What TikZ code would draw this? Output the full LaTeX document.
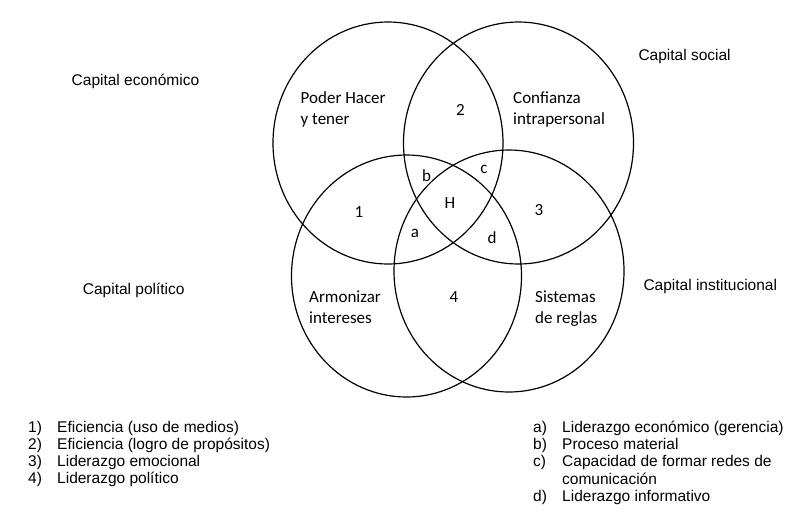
\documentclass[tikz,border=0pt]{standalone}
\usepackage{fontspec}
\setmainfont{Liberation Sans}
\newfontfamily\calfont{Carlito}
\usetikzlibrary{shapes.geometric}
\begin{document}
\begin{tikzpicture}[x=1pt,y=-1pt,
  setshape/.style={draw=black,line width=1.2pt,ellipse,minimum width=230pt,minimum height=242pt,inner sep=0pt},
  captext/.style={anchor=base west,inner sep=0pt,font=\fontsize{15.5}{17}\selectfont},
  inltext/.style={anchor=base west,inner sep=0pt,font=\calfont\fontsize{17}{21}\selectfont},
  regtext/.style={anchor=base,inner sep=0pt,font=\calfont\fontsize{17}{21}\selectfont},
  legtext/.style={anchor=base west,inner sep=0pt,font=\fontsize{15.5}{17}\selectfont}]
\useasboundingbox (0,0) rectangle (795,517);
% sets
\node[setshape] (eco) at (388,143) {};
\node[setshape] (soc) at (518.5,143) {};
\node[setshape] (pol) at (406.5,276) {};
\node[setshape] (ins) at (509,271) {};
% capital labels
\node[captext] (ceco) at (71.5,85.5) {Capital económico};
\node[captext] (csoc) at (638.3,60.7) {Capital social};
\node[captext] (cpol) at (82.7,294) {Capital político};
\node[captext] (cins) at (643.3,290) {Capital institucional};
% inner texts
\node[inltext] (ph1) at (300.5,103.5) {Poder Hacer};
\node[inltext] (ph2) at (300.5,124.5) {y tener};
\node[inltext] (cf1) at (513,103.5) {Confianza};
\node[inltext] (cf2) at (513,124.5) {intrapersonal};
\node[inltext] (ar1) at (309,302.5) {Armonizar};
\node[inltext] (ar2) at (309,323.5) {intereses};
\node[inltext] (si1) at (535,302.5) {Sistemas};
\node[inltext] (si2) at (535,323.5) {de reglas};
% region labels
\node[regtext] (n2) at (460.5,115.5) {2};
\node[regtext] (n1) at (359,217.5) {1};
\node[regtext] (n3) at (539,215.5) {3};
\node[regtext] (n4) at (454,302.5) {4};
\node[regtext] (lb) at (426.7,181) {b};
\node[regtext] (lc) at (484,173.5) {c};
\node[regtext] (lh) at (450,208.5) {H};
\node[regtext] (la) at (415,237) {a};
\node[regtext] (ld) at (492,243.5) {d};
% legend left
\node[legtext] (k1) at (28,432) {1)};
\node[legtext] (t1) at (57,432) {Eficiencia (uso de medios)};
\node[legtext] (k2) at (28,449) {2)};
\node[legtext] (t2) at (57,449) {Eficiencia (logro de propósitos)};
\node[legtext] (k3) at (28,466) {3)};
\node[legtext] (t3) at (57,466) {Liderazgo emocional};
\node[legtext] (k4) at (28,483) {4)};
\node[legtext] (t4) at (57,483) {Liderazgo político};
% legend right
\node[legtext] (ka) at (533,432) {a)};
\node[legtext] (ta) at (562,432) {Liderazgo económico (gerencia)};
\node[legtext] (kb) at (533,449.3) {b)};
\node[legtext] (tb) at (562,449.3) {Proceso material};
\node[legtext] (kc) at (533,466.6) {c)};
\node[legtext] (tc) at (562,466.6) {Capacidad de formar redes de};
\node[legtext] (tc2) at (562,484) {comunicación};
\node[legtext] (kd) at (533,501.3) {d)};
\node[legtext] (td) at (562,501.3) {Liderazgo informativo};
\end{tikzpicture}
\end{document}
